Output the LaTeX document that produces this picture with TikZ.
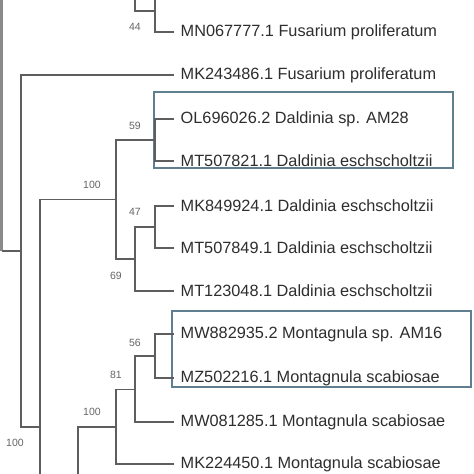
\documentclass[tikz,border=0pt]{standalone}
\usepackage{fontspec}
\setmainfont{Liberation Sans}
\definecolor{treeline}{HTML}{5E5E5E}
\definecolor{rootline}{HTML}{8A8A8A}
\definecolor{boxblue}{HTML}{5F7F8F}
\definecolor{labeltext}{HTML}{2E2E2E}
\definecolor{bootgray}{HTML}{666666}
\tikzset{
  leaf/.style={anchor=west, inner xsep=6.5pt, inner ysep=0pt, text=labeltext, font=\fontsize{16.3}{18}\selectfont},
  boot/.style={text=bootgray, inner sep=0pt, font=\fontsize{10.5}{12}\selectfont},
  branch/.style={draw=treeline, line width=1.3pt},
  rootbranch/.style={draw=rootline, line width=3pt},
  cladebox/.style={draw=boxblue, line width=1.8pt}
}
\begin{document}
\begin{tikzpicture}[x=1pt,y=-1pt]
\useasboundingbox[fill=white] (0,0) rectangle (474,474);

% leaves
\node[leaf] (mn)  at (174,32)  {MN067777.1 Fusarium proliferatum};
\node[leaf] (mk1) at (174,75)  {MK243486.1 Fusarium proliferatum};
\node[leaf] (ol)  at (174,119) {OL696026.2 Daldinia sp. AM28};
\node[leaf] (mt1) at (174,161) {MT507821.1 Daldinia eschscholtzii};
\node[leaf] (mk2) at (174,206) {MK849924.1 Daldinia eschscholtzii};
\node[leaf] (mt2) at (174,248) {MT507849.1 Daldinia eschscholtzii};
\node[leaf] (mt3) at (174,291) {MT123048.1 Daldinia eschscholtzii};
\node[leaf] (mw1) at (174,334) {MW882935.2 Montagnula sp. AM16};
\node[leaf] (mz)  at (174,378) {MZ502216.1 Montagnula scabiosae};
\node[leaf] (mw2) at (174,422) {MW081285.1 Montagnula scabiosae};
\node[leaf] (mk3) at (174,464) {MK224450.1 Montagnula scabiosae};

% internal nodes
\coordinate (topA) at (135,0);
\coordinate (B) at (155,11);
\coordinate (topB) at (155,0);
\coordinate (rootTop) at (1.5,0);
\coordinate (C) at (21,251);
\coordinate (D) at (40,427);
\coordinate (Dbot) at (40,474);
\coordinate (E) at (116,199.5);
\coordinate (F) at (155,140);
\coordinate (G) at (135,259);
\coordinate (H) at (155,227);
\coordinate (Ibot) at (78,474);
\coordinate (J) at (116,427);
\coordinate (K) at (135,389.5);
\coordinate (L) at (155,356);

% clade boxes
\draw[cladebox] (154,92) rectangle (453,168);
\draw[cladebox] (172,311) rectangle (471,387);

% branches
\draw[branch] (topA) |- (B);
\draw[branch] (topB) |- (mn.west);
\draw[rootbranch] (rootTop) -- (1.5,251);
\draw[branch] (1.5,251) -- (C);
\draw[branch] (C) |- (mk1.west);
\draw[branch] (C) |- (D);
\draw[branch] (Dbot) |- (E);
\draw[branch] (E) |- (F);
\draw[branch] (E) |- (G);
\draw[branch] (F) |- (ol.west);
\draw[branch] (F) |- (mt1.west);
\draw[branch] (G) |- (H);
\draw[branch] (G) |- (mt3.west);
\draw[branch] (H) |- (mk2.west);
\draw[branch] (H) |- (mt2.west);
\draw[branch] (Ibot) |- (J);
\draw[branch] (J) |- (K);
\draw[branch] (J) |- (mk3.west);
\draw[branch] (K) |- (L);
\draw[branch] (K) |- (mw2.west);
\draw[branch] (L) |- (mw1.west);
\draw[branch] (L) |- (mz.west);

% bootstrap values
\node[boot] (b44)  at (135,27)  {44};
\node[boot] (b59)  at (135,126) {59};
\node[boot] (b100a) at (92,185) {100};
\node[boot] (b47)  at (135,212) {47};
\node[boot] (b69)  at (116,276) {69};
\node[boot] (b56)  at (135,343) {56};
\node[boot] (b81)  at (116,375) {81};
\node[boot] (b100b) at (92,412) {100};
\node[boot] (b100c) at (15,443) {100};
\end{tikzpicture}
\end{document}
